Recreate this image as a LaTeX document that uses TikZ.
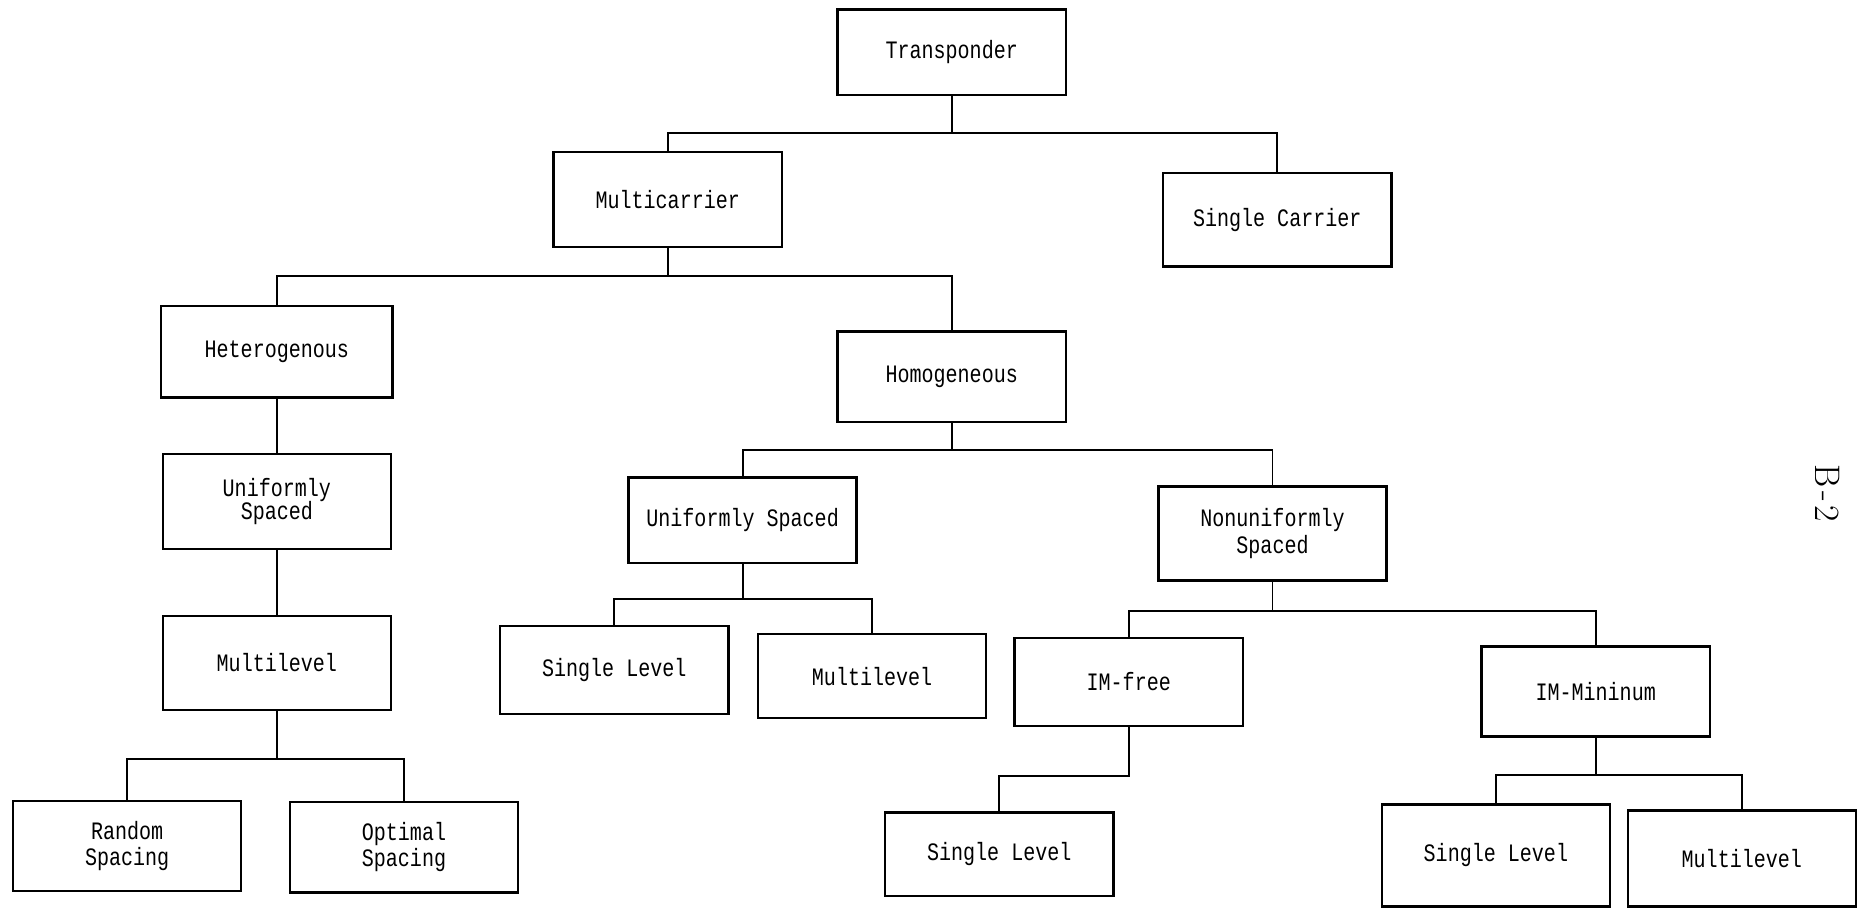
\documentclass[tikz,border=0pt]{standalone}
\usepackage{fontspec}
\newfontfamily\treefont{Liberation Mono}[FakeStretch=0.8]
\tikzset{
  box/.style={draw, line width=1.2pt, minimum width=38.4mm, minimum height=15.4mm,
    inner sep=2pt, align=center, font=\treefont\fontsize{12}{12.5}\selectfont},
  link/.style={draw, line width=0.9pt}
}
\begin{document}
\begin{tikzpicture}[x=0.2mm,y=-0.2mm]
	\useasboundingbox (0,0) rectangle (1568,765);
	% first levels
	\node[box, minimum height=14.4mm] (trans) at (801,44) {Transponder};
	\node[box, minimum height=16mm] (multi) at (562,168) {Multicarrier};
	\node[box, minimum height=15.8mm] (single) at (1075,185) {Single Carrier};
	\node[box, minimum width=39mm] (het) at (233,296) {Heterogenous};
	\node[box, minimum height=15.2mm] (hom) at (801,317) {Homogeneous};
	% heterogenous side
	\node[box, minimum height=16mm] (uniL) at (233,422) {Uniformly\\[-1.5pt]Spaced};
	\node[box, minimum height=15.8mm] (mlL) at (233,558) {Multilevel};
	\node[box, minimum height=15.2mm] (rand) at (107,712) {Random\\Spacing};
	\node[box, minimum height=15.2mm] (opt) at (340,713) {Optimal\\Spacing};
	% homogeneous side
	\node[box, minimum height=14.4mm] (uniM) at (625,438) {Uniformly Spaced};
	\node[box, minimum height=15.8mm] (nonu) at (1071,449) {Nonuniformly\\Spaced};
	\node[box, minimum height=14.8mm] (slM) at (517,564) {Single Level};
	\node[box, minimum height=14.2mm] (mlM) at (734,569) {Multilevel};
	\node[box, minimum height=14.8mm] (imf) at (950,574) {IM-free};
	\node[box, minimum height=15.2mm] (imm) at (1343,582) {IM-Mininum};
	\node[box, minimum height=14mm] (slB) at (841,719) {Single Level};
	\node[box, minimum height=17.2mm] (slR) at (1259,720) {Single Level};
	\node[box, minimum height=16.2mm] (mlR) at (1466,722.5) {Multilevel};
	\node[rotate=-90, font=\fontsize{17}{20}\selectfont] (page) at (1538,415) {B\kern1.5pt-\kern1.5pt2};
	% connectors
	\path[link] (trans.south) -- ++(0,31) coordinate (j1);
	\path[link] (multi.north) |- (j1) -| (single.north);
	\path[link] (multi.south) -- ++(0,23) coordinate (j2);
	\path[link] (het.north) |- (j2) -| (hom.north);
	\path[link] (het.south) -- (uniL.north);
	\path[link] (uniL.south) -- (mlL.north);
	\path[link] (mlL.south) -- ++(0,40) coordinate (j3);
	\path[link] (rand.north) |- (j3) -| (opt.north);
	\path[link] (hom.south) -- ++(0,23) coordinate (j4);
	\path[link] (uniM.north) |- (j4) -| (nonu.north);
	\path[link] (uniM.south) -- ++(0,29) coordinate (j5);
	\path[link] (slM.north) |- (j5) -| (mlM.north);
	\path[link] (nonu.south) -- ++(0,25) coordinate (j6);
	\path[link] (imf.north) |- (j6) -| (imm.north);
	\path[link] (imf.south) -- ++(0,41) -| (slB.north);
	\path[link] (imm.south) -- ++(0,31) coordinate (j8);
	\path[link] (slR.north) |- (j8) -| (mlR.north);
\end{tikzpicture}
\end{document}
